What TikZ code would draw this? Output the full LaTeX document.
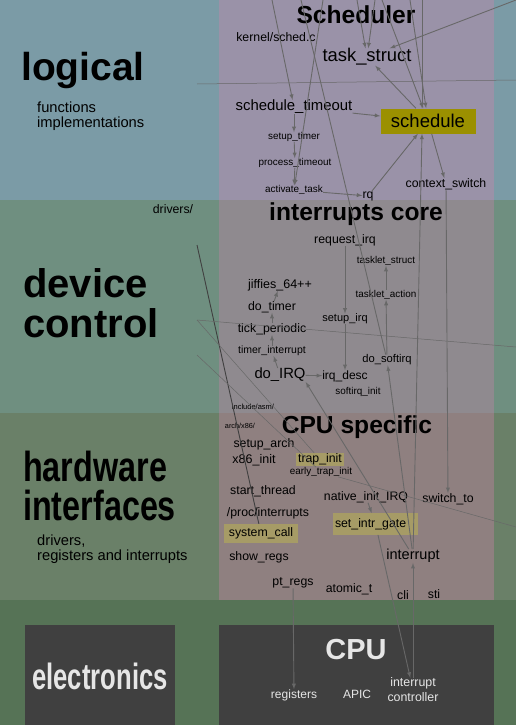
\documentclass[tikz,border=0pt]{standalone}
\usepackage{fontspec}
\setmainfont{Liberation Sans}
\usepackage[rgb]{xcolor}
\usepackage{graphicx}
\usepackage{tikz}

\definecolor{logicalbg}{RGB}{123,155,166}
\definecolor{schedbg}{RGB}{154,146,168}
\definecolor{devicebg}{RGB}{111,143,128}
\definecolor{irqbg}{RGB}{143,138,143}
\definecolor{hwbg}{RGB}{106,128,104}
\definecolor{cpubg}{RGB}{143,128,128}
\definecolor{elecbg}{RGB}{86,115,86}
\definecolor{chipbg}{RGB}{64,64,64}
\definecolor{chiptext}{RGB}{230,230,230}
\definecolor{hilite}{RGB}{155,144,0}
\definecolor{tanbox}{RGB}{166,155,102}
\definecolor{callline}{RGB}{104,104,104}

\newcommand{\fsz}[1]{\fontsize{#1}{#1}\selectfont}

\begin{document}
\begin{tikzpicture}[x=1pt,y=-1pt,
  fnname/.style={inner sep=0pt,font=\fsz{12.3}},
  fnsmall/.style={inner sep=0pt,font=\fsz{9.9}},
  fntiny/.style={inner sep=0pt,font=\fsz{7.5}},
  blocktitle/.style={inner sep=0pt,font=\fsz{24.6}\bfseries},
  layername/.style={inner sep=0pt,anchor=base west,align=left},
  layernote/.style={inner sep=0pt,anchor=base west,align=left,font=\fontsize{14.7}{15}\selectfont},
  chiplabel/.style={inner sep=0pt,text=chiptext,font=\fsz{12}},
  hibox/.style={fill=#1,inner xsep=3pt,inner ysep=3pt},
  calls/.style={-{latex[scale=1.5]},draw=callline,line width=0.9pt},
  plainlink/.style={draw=callline,line width=0.9pt},
  faintlink/.style={draw=callline,line width=0.5pt}]

\useasboundingbox (0,0) rectangle (516,725);

% layers and columns
\fill[logicalbg] (0,0) rectangle (516,200);
\fill[devicebg] (0,200) rectangle (516,413);
\fill[hwbg] (0,413) rectangle (516,600);
\fill[elecbg] (0,600) rectangle (516,725);
\fill[schedbg] (219,0) rectangle (494,200);
\fill[irqbg] (219,200) rectangle (494,413);
\fill[cpubg] (219,413) rectangle (494,600);
\fill[chipbg] (25,625) rectangle (175,725);
\fill[chipbg] (219,625) rectangle (494,725);

% left column (base = last line)
\node[layername,font=\fsz{39}\bfseries] (logical) at (21,81) {logical};
\node[layernote] (lognote) at (37,127) {functions\\implementations};
\node[fnname] (drivers) at (173,209) {drivers/};
\node[layername,font=\fontsize{40}{40}\selectfont\bfseries] (device) at (23,337) {device\\control};
\node[layername,font=\fontsize{42}{39.5}\selectfont\bfseries] (hardware) at (23,520.5)
  {\scalebox{0.77}[1]{hardware}\\\scalebox{0.77}[1]{interfaces}};
\node[layernote] (hwnote) at (37,560) {drivers,\\registers and interrupts};
\node[inner sep=0pt,text=chiptext,font=\fsz{36.6}\bfseries] (elec) at (100,676) {\scalebox{0.7}[1]{electronics}};

% Scheduler
\node[blocktitle] (sched) at (356,15) {Scheduler};
\node[fnname] (schedc) at (276,37) {kernel/sched.c};
\node[inner sep=0pt,font=\fsz{18.4}] (task) at (367,57) {task\_struct};
\node[inner sep=0pt,font=\fsz{14.9}] (stimeout) at (294,107) {schedule\_timeout};
\node[hibox=hilite,minimum width=95pt,minimum height=25pt,font=\fsz{18.5}] (schedule) at (428,121) {schedule};
\node[fnsmall] (stimer) at (294,137) {setup\_timer};
\node[fnsmall] (ptimeout) at (295,163) {process\_timeout};
\node[fnsmall] (activate) at (294,190) {activate\_task};
\node[fnname] (rq) at (368,196) {rq};
\node[fnname] (cswitch) at (446,184) {context\_switch};

% interrupts core
\node[blocktitle] (irqcore) at (356,214) {interrupts core};
\node[fnname] (reqirq) at (345,240) {request\_irq};
\node[fnsmall] (tstruct) at (386,261) {tasklet\_struct};
\node[fnsmall] (taction) at (386,295) {tasklet\_action};
\node[inner sep=0pt,font=\fsz{12.5}] (jiffies) at (280,285) {jiffies\_64++};
\node[fnname] (dotimer) at (272,307) {do\_timer};
\node[fnname] (tick) at (272,329) {tick\_periodic};
\node[inner sep=0pt,font=\fsz{10.5}] (tinter) at (272,351) {timer\_interrupt};
\node[inner sep=0pt,font=\fsz{14.8}] (doirq) at (280,375) {do\_IRQ};
\node[inner sep=0pt,font=\fsz{12}] (irqdesc) at (345,376) {irq\_desc};
\node[inner sep=0pt,font=\fsz{11}] (setupirq) at (345,319) {setup\_irq};
\node[inner sep=0pt,font=\fsz{11.2}] (softirq) at (387,360) {do\_softirq};
\node[fnsmall] (softinit) at (358,392) {softirq\_init};
\node[fntiny] (incasm) at (253,407) {include/asm/};

% CPU specific
\node[blocktitle] (cpuspec) at (357,427) {CPU specific};
\node[inner sep=0pt,font=\fsz{7.3}] (archx) at (240,426) {arch/x86/};
\node[fnname] (setarch) at (264,444) {setup\_arch};
\node[inner sep=0pt,font=\fsz{12.5}] (xinit) at (254,460) {x86\_init};
\node[fnname,hibox=tanbox,inner xsep=2pt,inner ysep=0.7pt] (trapinit) at (320,459.5) {trap\_init};
\node[fnsmall] (earlytrap) at (321,472) {early\_trap\_init};
\node[fnname] (sthread) at (263,491) {start\_thread};
\node[fnname] (nativeirq) at (366,497) {native\_init\_IRQ};
\node[fnname] (switchto) at (448,499) {switch\_to};
\node[fnname] (procint) at (268,513) {/proc/interrupts};
\node[fnname,hibox=tanbox,text width=81pt,inner xsep=2pt,inner ysep=5pt] (intrgate) at (375.5,524) {set\_intr\_gate};
\node[fnname,hibox=tanbox,inner xsep=5pt,inner ysep=3.7pt] (syscall) at (261,533.5) {system\_call};
\node[fnname] (showregs) at (259,557) {show\_regs};
\node[inner sep=0pt,font=\fsz{14.5}] (interrupt) at (413,556) {interrupt};
\node[fnname] (ptregs) at (293,583) {pt\_regs};
\node[fnname] (atomic) at (349,589) {atomic\_t};
\node[fnname] (cli) at (403,595) {cli};
\node[fnname] (sti) at (434,594) {sti};

% CPU
\node[inner sep=0pt,text=chiptext,font=\fsz{29}\bfseries] (cpu) at (356,650) {CPU};
\node[chiplabel] (registers) at (294,695) {registers};
\node[chiplabel] (apic) at (357,694) {APIC};
\node[chiplabel,align=center,font=\fontsize{12.4}{15}\selectfont] (intctrl) at (413,690) {interrupt\\controller};

% ends of lines that come from outside the picture
\coordinate (inA) at (272,0);
\coordinate (inB) at (323,0);
\coordinate (inC) at (301,0);
\coordinate (inD) at (357,0);
\coordinate (inE) at (375,0);
\coordinate (inF) at (516,0);
\coordinate (inG) at (382,0);
\coordinate (inH) at (410,0);
\coordinate (inI) at (422,0);
\coordinate (drv) at (197,245);
\coordinate (lgL) at (197,84);
\coordinate (lgR) at (516,80);
\coordinate (dvL) at (197,320);
\coordinate (dvR) at (516,347);
\coordinate (asmL) at (197,355);
\coordinate (hwR) at (516,527);

\draw [calls] (inA) -- (stimeout);
\draw [calls] (inB) -- (activate);
\draw [plainlink] (inC) -- (softirq);
\draw [calls] (inD) -- (task);
\draw [calls] (inE) -- (task);
\draw [calls] (inF) -- (task);
\draw [calls] (inG) -- (schedule);
\draw [calls] (inH) -- (schedule);
\draw [calls] (inI) -- ([xshift=-6pt]schedule.north);
\draw [calls] (schedule) -- (task);
\draw [calls] (stimeout) -- (schedule);
\draw [calls] (stimeout) -- (stimer);
\draw [calls] (stimer) -- (ptimeout);
\draw [calls] (ptimeout) -- (activate);
\draw [calls] (activate) -- (rq);
\draw [calls] (rq) -- (schedule);
\draw [calls] (schedule) -- (cswitch);
\draw [calls] (cswitch) -- (switchto);
\draw [calls] (interrupt) -- ([xshift=-6pt]schedule.south);

\draw [calls] (reqirq) -- (setupirq);
\draw [calls] (setupirq) -- (irqdesc);
\draw [calls] (doirq) -- (irqdesc);
\draw [calls] (doirq) -- (tinter);
\draw [calls] (tinter) -- (tick);
\draw [calls] (tick) -- (dotimer);
\draw [calls] (dotimer) -- (jiffies);
\draw [calls] (softirq) -- (taction);
\draw [calls] (taction) -- (tstruct);
\draw [calls] (interrupt) -- (doirq.south east);
\draw [calls] (interrupt) -- (softirq);

\draw [calls] (nativeirq) -- (intrgate);
\draw [calls] (intrgate) -- (intctrl);
\draw [calls] (intctrl) -- (interrupt);
\draw [calls] (ptregs) -- (registers);
\draw [plainlink,draw=black!75] (drv) -- (syscall);

\draw [faintlink] (lgL) -- (lgR);
\draw [faintlink] (dvL) -- (dvR);
\draw [faintlink] (dvL) -- (trapinit);
\draw [faintlink] (asmL) -- (earlytrap);
\draw [faintlink] (earlytrap) -- (hwR);
\end{tikzpicture}
\end{document}
